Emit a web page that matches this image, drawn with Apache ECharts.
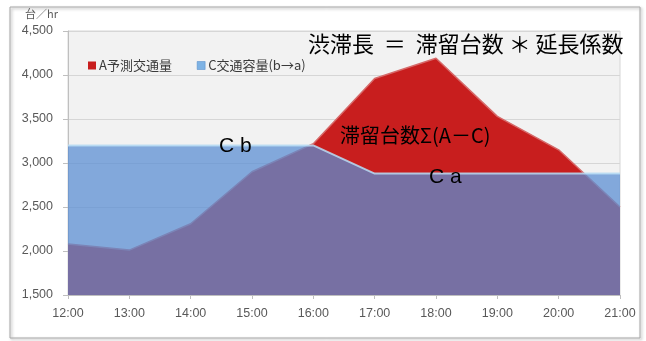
<!DOCTYPE html>
<html>
<head>
<meta charset="utf-8">
<script src="https://cdn.jsdelivr.net/npm/echarts@6/dist/echarts.min.js"></script>
<style>
  html, body { margin: 0; padding: 0; background: #ffffff; }
  #chart { width: 646px; height: 341px; }
</style>
</head>
<body>
<div id="chart"></div>
<script>
// Hourly time slots on the category axis
const hours = ['12:00', '13:00', '14:00', '15:00', '16:00', '17:00', '18:00', '19:00', '20:00', '21:00'];
// A: forecast traffic volume (veh/hr)
const forecastVolume = [2080, 2010, 2310, 2900, 3220, 3960, 4190, 3530, 3150, 2500];
// C: traffic capacity, b before the bottleneck change, a after it (veh/hr)
const capacity = [3200, 3200, 3200, 3200, 3200, 2880, 2880, 2880, 2880, 2880];
// Series names shown in the legend
const seriesNames = ['A予測交通量', 'C交通容量(b→a)'];
// Value axis range and step
const yMin = 1500, yMax = 4500, yStep = 500;

const CJK = '"Noto Sans CJK JP", sans-serif';
const LATIN = '"Liberation Sans", Arial, sans-serif';

const chart = echarts.init(document.getElementById('chart'), null, { renderer: 'canvas' });

chart.setOption({
  animation: false,
  backgroundColor: '#ffffff',
  grid: {
    left: 68, right: 26, top: 31, bottom: 46,
    show: true,
    backgroundColor: '#F2F2F2',
    borderColor: '#D6D6D6',
    borderWidth: 1
  },
  legend: {
    left: 83, top: 54,
    icon: 'rect',
    itemWidth: 8, itemHeight: 8, itemGap: 25,
    textStyle: { fontFamily: CJK, fontSize: 13, color: '#3A3A3A', padding: [0, 0, 0, -2] },
    data: [
      { name: seriesNames[0], itemStyle: { color: '#C81E1E' } },
      { name: seriesNames[1], itemStyle: { color: '#7DB2E4', borderColor: '#4F86C6', borderWidth: 0.5 } }
    ]
  },
  xAxis: {
    type: 'category',
    data: hours,
    boundaryGap: false,
    axisLine: { lineStyle: { color: '#BFBFBF' } },
    axisTick: { show: true, alignWithLabel: true, length: 4, lineStyle: { color: '#BFBFBF' } },
    axisLabel: { fontFamily: LATIN, fontSize: 12.5, color: '#595959', margin: 12 },
    splitLine: { show: false }
  },
  yAxis: {
    type: 'value',
    min: yMin, max: yMax, interval: yStep,
    axisLine: { show: true, lineStyle: { color: '#BFBFBF' } },
    axisTick: { show: true, length: 5, lineStyle: { color: '#BFBFBF' } },
    axisLabel: {
      fontFamily: LATIN, fontSize: 12.5, color: '#595959', margin: 15,
      formatter: v => v.toLocaleString('en-US')
    },
    splitLine: { lineStyle: { color: '#D6D6D6', width: 1 } }
  },
  series: [
    {
      name: seriesNames[0],
      type: 'line',
      data: forecastVolume,
      symbol: 'none',
      z: 2,
      lineStyle: { color: '#D66A6A', width: 1.5 },
      itemStyle: { color: '#C81E1E' },
      areaStyle: { color: '#C81E1E', opacity: 1 }
    },
    {
      name: seriesNames[1],
      type: 'line',
      data: capacity,
      symbol: 'none',
      z: 3,
      lineStyle: { color: '#B8DDF5', width: 2, opacity: 0.85 },
      itemStyle: { color: '#5A8ED2' },
      areaStyle: { color: '#5A8ED2', opacity: 0.74 }
    }
  ],
  graphic: [
    {
      type: 'rect', z: -10, silent: true,
      shape: { x: 10, y: 7, width: 630, height: 331 },
      style: { fill: 'none', stroke: '#A6A6A6', lineWidth: 1, shadowBlur: 3, shadowOffsetX: 1.5, shadowOffsetY: 1.5, shadowColor: 'rgba(0,0,0,0.35)' }
    },
    {
      type: 'text', z: 100, x: 25, y: 14,
      style: { text: '台／hr', font: '11px ' + CJK, fill: '#595959', textVerticalAlign: 'middle' }
    },
    {
      type: 'text', z: 100, x: 308, y: 44,
      style: { text: '渋滞長  ＝  滞留台数 ＊ 延長係数', font: '22px ' + CJK, fill: '#000000', textVerticalAlign: 'middle' }
    },
    {
      type: 'text', z: 100, x: 340, y: 135,
      style: { text: '滞留台数Σ(A－C)', font: '20px ' + CJK, fill: '#000000', textVerticalAlign: 'middle' }
    },
    {
      type: 'text', z: 100, x: 219, y: 146,
      style: { text: 'C b', font: '21px ' + LATIN, fill: '#000000', textVerticalAlign: 'middle' }
    },
    {
      type: 'text', z: 100, x: 429, y: 177,
      style: { text: 'C a', font: '21px ' + LATIN, fill: '#000000', textVerticalAlign: 'middle' }
    }
  ]
});
</script>
</body>
</html>
